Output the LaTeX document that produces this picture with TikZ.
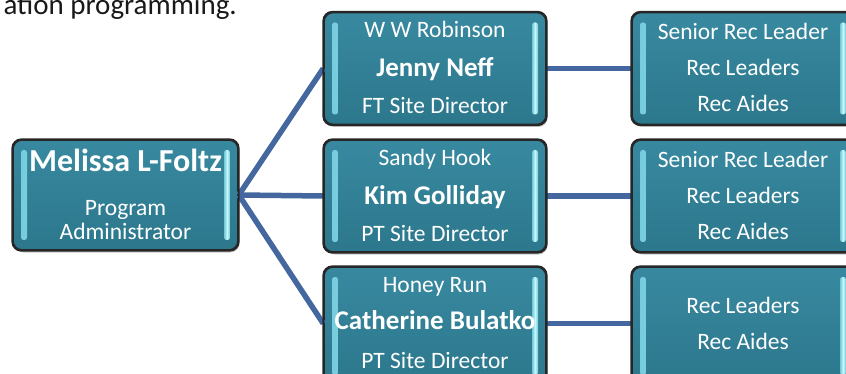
\documentclass[tikz,border=0pt]{standalone}
\usepackage{fontspec}
\setmainfont{Carlito}
\usetikzlibrary{shadows}
\definecolor{boxtop}{HTML}{3889A0}
\definecolor{boxbot}{HTML}{2C778C}
\definecolor{barlight}{HTML}{C8F6FA}
\definecolor{bardark}{HTML}{6FC9DA}
\definecolor{linkcol}{HTML}{44679F}
\tikzset{
  orgbox/.style={draw=black!85, line width=1.6pt, rounded corners=9pt,
    top color=boxtop, bottom color=boxbot, minimum width=222pt, minimum height=112pt,
    inner sep=0pt,
    drop shadow={shadow xshift=1.5pt, shadow yshift=-2.5pt, opacity=0.35, fill=black!60},
    path picture={
      \shade[left color=bardark, right color=bardark, middle color=barlight, rounded corners=2.5pt]
        ([xshift=8pt,yshift=-10pt]path picture bounding box.north west) rectangle
        ([xshift=14pt,yshift=10pt]path picture bounding box.south west);
      \shade[left color=bardark, right color=bardark, middle color=barlight, rounded corners=2.5pt]
        ([xshift=-14pt,yshift=-10pt]path picture bounding box.north east) rectangle
        ([xshift=-8pt,yshift=10pt]path picture bounding box.south east);
    }},
  txt/.style={text=white, inner sep=0pt, anchor=base, font=\fontsize{23.5}{26}\selectfont},
  bold/.style={txt, font=\fontsize{27}{29}\selectfont\bfseries},
  link/.style={draw=linkcol, line width=5.5pt}
}
\begin{document}
\begin{tikzpicture}[x=1pt,y=-1pt]
\useasboundingbox (0,0) rectangle (846,374);
\clip (0,0) rectangle (846,374);
% header text
\node[inner sep=0pt, anchor=base east, text=black!90, font=\fontsize{29}{32}\selectfont] (hdr) at (237,15) {ation programming.};
% boxes
\node[orgbox, minimum width=225pt, minimum height=110pt] (admin) at (125.5,195) {};
\node[orgbox] (s1) at (435,68.5) {};
\node[orgbox] (s2) at (435,196) {};
\node[orgbox, minimum height=118pt] (s3) at (435,326) {};
\node[orgbox] (r1) at (743,68.5) {};
\node[orgbox] (r2) at (743,196) {};
\node[orgbox, minimum height=118pt] (r3) at (743,326) {};
% connectors
\draw[link] (admin.east) -- (s1.west);
\draw[link] (admin.east) -- (s2.west);
\draw[link] (admin.east) -- ([yshift=2.5pt]s3.west);
\draw[link] (s1.east) -- (r1.west);
\draw[link] (s2.east) -- (r2.west);
\draw[link] ([yshift=2.5pt]s3.east) -- ([yshift=2.5pt]r3.west);
% redraw borders over connectors
\foreach \n in {admin,s1,s2,s3,r1,r2,r3}{
  \draw[black!85, line width=1.6pt, rounded corners=9pt] (\n.north west) rectangle (\n.south east);
}
% admin text
\node[bold, font=\fontsize{32}{34}\selectfont\bfseries] (a1) at (125.5,172) {Melissa L-Foltz};
\node[txt] (a2) at (125.5,215) {Program};
\node[txt] (a3) at (125.5,240) {Administrator};
% site 1
\node[txt] (s1a) at (435,38) {W W Robinson};
\node[bold] (s1b) at (435,77) {Jenny Neff};
\node[txt] (s1c) at (435,114) {FT Site Director};
% site 2
\node[txt] (s2a) at (435,166) {Sandy Hook};
\node[bold] (s2b) at (435,205) {Kim Golliday};
\node[txt] (s2c) at (435,242) {PT Site Director};
% site 3
\node[txt] (s3a) at (435,292) {Honey Run};
\node[bold] (s3b) at (435,329) {Catherine Bulatko};
\node[txt] (s3c) at (435,368) {PT Site Director};
% staff 1
\node[txt] (r1a) at (743,40) {Senior Rec Leader};
\node[txt] (r1b) at (743,76) {Rec Leaders};
\node[txt] (r1c) at (743,112) {Rec Aides};
% staff 2
\node[txt] (r2a) at (743,168) {Senior Rec Leader};
\node[txt] (r2b) at (743,204) {Rec Leaders};
\node[txt] (r2c) at (743,240) {Rec Aides};
% staff 3
\node[txt] (r3a) at (743,313) {Rec Leaders};
\node[txt] (r3b) at (743,349) {Rec Aides};
\end{tikzpicture}
\end{document}
